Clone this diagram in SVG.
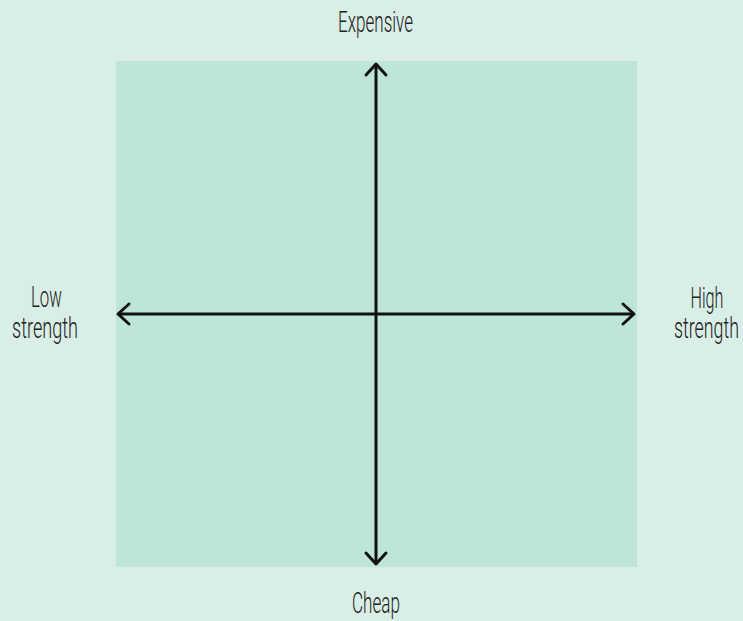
<svg xmlns="http://www.w3.org/2000/svg" width="743" height="621" viewBox="0 0 743 621">
<style>
.lbl{font-family:"Roboto","Liberation Sans",sans-serif;font-weight:300;font-size:29px;fill:#222;text-anchor:middle}
.axis{stroke:#111;stroke-width:3;fill:none;stroke-linecap:round;stroke-linejoin:round}
</style>
<rect x="0" y="0" width="743" height="621" fill="#d9eee7"/>
<g id="field"><rect x="116" y="61" width="521" height="506" fill="#bde6d8"/></g>
<g id="connectors">
<line class="axis" x1="376" y1="65" x2="376" y2="563"/>
<polyline class="axis" points="366,75 376,64 386,75"/>
<polyline class="axis" points="366,553 376,564 386,553"/>
<line class="axis" x1="119" y1="314" x2="633" y2="314"/>
<polyline class="axis" points="129,304 118,314 129,324"/>
<polyline class="axis" points="623,304 634,314 623,324"/>
</g>
<g id="expensive"><text class="lbl" x="375.5" y="32" textLength="75" lengthAdjust="spacingAndGlyphs">Expensive</text></g>
<g id="cheap"><text class="lbl" x="376" y="613" textLength="48" lengthAdjust="spacingAndGlyphs">Cheap</text></g>
<g id="low"><text class="lbl" x="46.5" y="307" textLength="31" lengthAdjust="spacingAndGlyphs">Low</text><text class="lbl" x="45" y="338" textLength="66" lengthAdjust="spacingAndGlyphs">strength</text></g>
<g id="high"><text class="lbl" x="707" y="308" textLength="33" lengthAdjust="spacingAndGlyphs">High</text><text class="lbl" x="706.5" y="338" textLength="65" lengthAdjust="spacingAndGlyphs">strength</text></g>
</svg>
